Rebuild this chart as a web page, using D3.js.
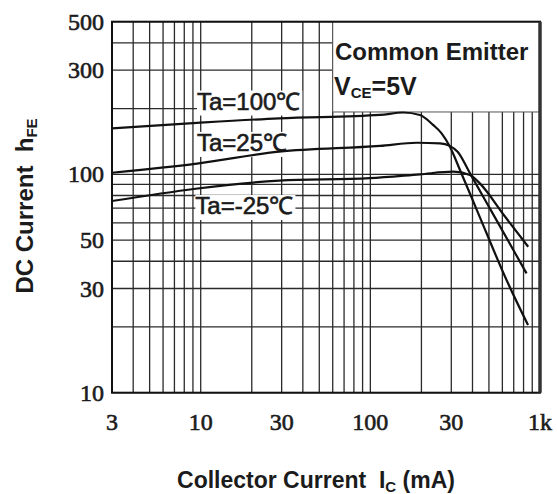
<!DOCTYPE html>
<html><head><meta charset="utf-8">
<script src="https://cdn.jsdelivr.net/npm/d3@7"></script>
<style>body{margin:0;background:#fff}svg{display:block}text{white-space:pre}</style>
</head><body>
<svg id="c" width="557" height="494"></svg>
<script>
// ---- data ----
const xGridValues = [3,4,5,6,7,8,9,10,20,30,40,50,60,70,80,90,100,200,300,400,500,600,700,800,900,1000];
const yGridValues = [10,20,30,40,50,60,70,80,90,100,300,400,500];
const yPartialGrid = {value:200, from:3, to:10};
const xTickValues = [3,10,30,100,300,1000];
const xTickLabels = ["3","10","30","100","30","1k"];
const yTickValues = [10,30,50,100,300,500];
const yTickLabels = ["10","30","50","100","300","500"];
const ta100 = [[3,162.4],[9.5,172],[29,180.5],[114,187],[156,191.9],[196,186.9],[235,168],[263,154],[294,134],[337,105],[430,67],[635,32.8],[850,20.4]];
const ta25  = [[3,101.7],[9.5,112],[29,127],[114,135],[188,139.5],[257,138.7],[294,135],[328,126.5],[386,101.3],[520,67.3],[833,35.2]];
const taM25 = [[3,75.5],[29,93.5],[99,96],[196,100],[308,102.8],[386,99.3],[442,90.9],[612,65.1],[852,46.6]];
const curveLabels = [
  {text:"Ta=100℃", x:9.5, y:198},
  {text:"Ta=25℃",  x:9.5, y:128},
  {text:"Ta=-25℃", x:9.3, y:65.8}
];
const noteBox = {x0:60, x1:1000, y0:193, y1:500};

// ---- scales ----
const svg = d3.select("#c");
const x = d3.scaleLog().domain([3,1000]).range([112,540]);
const y = d3.scaleLog().domain([10,500]).range([392.7,21.7]);
const ink = "#1b1b1b";

// grid
const g = svg.append("g");
g.selectAll("line.v").data(xGridValues).join("line")
  .attr("x1",d=>x(d)).attr("x2",d=>x(d)).attr("y1",y(500)).attr("y2",y(10))
  .attr("stroke","#2a2a2a").attr("stroke-width",1.3);
g.selectAll("line.h").data(yGridValues).join("line")
  .attr("x1",x(3)).attr("x2",x(1000)).attr("y1",d=>y(d)).attr("y2",d=>y(d))
  .attr("stroke","#2a2a2a").attr("stroke-width",1.3);
g.append("line").attr("x1",x(yPartialGrid.from)).attr("x2",x(yPartialGrid.to))
  .attr("y1",y(yPartialGrid.value)).attr("y2",y(yPartialGrid.value))
  .attr("stroke","#2a2a2a").attr("stroke-width",1.3);

// annotation box
svg.append("rect").attr("x",x(noteBox.x0)).attr("y",y(noteBox.y1))
  .attr("width",x(noteBox.x1)-x(noteBox.x0)).attr("height",y(noteBox.y0)-y(noteBox.y1))
  .attr("fill","#fff").attr("stroke","#555").attr("stroke-width",1);

// curve labels with white backgrounds
const lblG = svg.append("g");
curveLabels.forEach(l=>{
  const t = lblG.append("text").attr("x",x(l.x)).attr("y",y(l.y))
    .attr("font-family","Liberation Sans, Arial, sans-serif").attr("font-size",24)
    .attr("fill",ink).attr("stroke",ink).attr("stroke-width",0.6).text(l.text);
  const b = t.node().getBBox();
  lblG.insert("rect","text").attr("x",b.x).attr("y",b.y+3).attr("width",b.width+2).attr("height",b.height-2).attr("fill","#fff");
});

// curves
const line = d3.line().x(d=>x(d[0])).y(d=>y(d[1])).curve(d3.curveMonotoneX);
[ta100,ta25,taM25].forEach(s=>{
  svg.append("path").datum(s).attr("d",line).attr("fill","none")
    .attr("stroke","#111").attr("stroke-width",2.2);
});

// frame
svg.append("rect").attr("x",x(3)).attr("y",y(500)).attr("width",x(1000)-x(3)).attr("height",y(10)-y(500))
  .attr("fill","none").attr("stroke","#111").attr("stroke-width",2);
svg.append("line").attr("x1",x(1000)).attr("x2",x(1000)).attr("y1",y(500)).attr("y2",y(10))
  .attr("stroke","#333").attr("stroke-width",3.5);

// tick labels
svg.selectAll("text.xt").data(xTickValues).join("text")
  .attr("x",d=>x(d)).attr("y",430).attr("text-anchor","middle")
  .attr("font-family","Liberation Serif, Times New Roman, serif").attr("font-size",24)
  .attr("fill",ink).attr("stroke",ink).attr("stroke-width",0.6)
  .text((d,i)=>xTickLabels[i]);
svg.selectAll("text.yt").data(yTickValues).join("text")
  .attr("x",104).attr("y",d=>y(d)).attr("dy","0.34em").attr("text-anchor","end")
  .attr("font-family","Liberation Serif, Times New Roman, serif").attr("font-size",24)
  .attr("fill",ink).attr("stroke",ink).attr("stroke-width",0.6)
  .text((d,i)=>yTickLabels[i]);

// annotation text
const sans = "Liberation Sans, Arial, sans-serif";
svg.append("text").attr("x",335).attr("y",60).attr("font-family",sans).attr("font-weight","bold")
  .attr("font-size",24).attr("fill",ink).text("Common Emitter");
const vce = svg.append("text").attr("x",334).attr("y",95).attr("font-family",sans).attr("font-weight","bold")
  .attr("font-size",25).attr("fill",ink);
vce.append("tspan").text("V");
vce.append("tspan").attr("font-size",15).attr("dy",3).text("CE");
vce.append("tspan").attr("dy",-3).text("=5V");

// axis titles
const xt = svg.append("text").attr("x",316).attr("y",488).attr("text-anchor","middle")
  .attr("font-family",sans).attr("font-weight","bold").attr("font-size",23).attr("fill",ink);
xt.append("tspan").text("Collector Current  I");
xt.append("tspan").attr("font-size",15).attr("dy",4).text("C");
xt.append("tspan").attr("dy",-4).text(" (mA)");

const yt = svg.append("text").attr("transform","translate(33,206) rotate(-90)").attr("text-anchor","middle")
  .attr("font-family",sans).attr("font-weight","bold").attr("font-size",24).attr("fill",ink);
yt.append("tspan").text("DC Current  h");
yt.append("tspan").attr("font-size",15).attr("dy",4).text("FE");
</script>
</body></html>
